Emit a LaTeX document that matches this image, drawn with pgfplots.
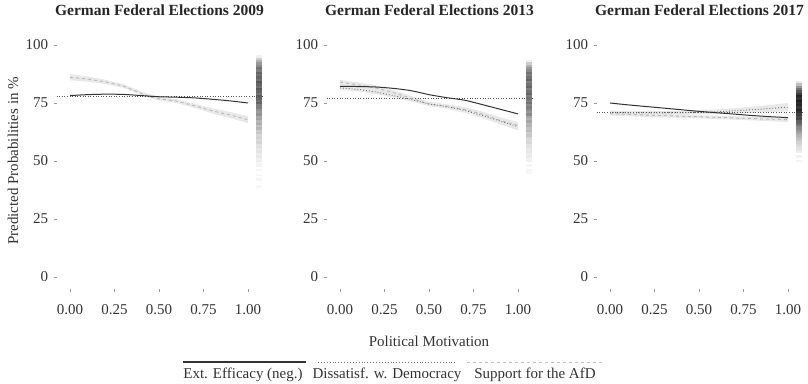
\documentclass[border=0pt]{standalone}
\usepackage{pgfplots}
\pgfplotsset{compat=1.18}
\usepackage{pgfplotstable}
\usepackage{fontspec}
\setmainfont{Liberation Serif}

\definecolor{txt}{HTML}{333333}
\definecolor{tk}{HTML}{999999}

\pgfplotsset{
  panel/.style={
    scale only axis, width=205.6pt, height=255.2pt,
    xmin=-0.075, xmax=1.08, ymin=-5, ymax=105,
    axis x line*=bottom, axis y line*=left,
    axis line style={draw=none},
    xtick={0,0.25,0.5,0.75,1}, ytick={0,25,50,75,100},
    xticklabels={0.00,0.25,0.50,0.75,1.00},
    tick align=outside, major tick length=3pt,
    tick style={tk, line width=0.6pt},
    ticklabel style={font=\fontsize{15}{18}\selectfont, text=txt},
    /pgf/number format/assume math mode=true,
    xticklabel style={yshift=-9pt},
    yticklabel style={xshift=-2pt},
    title style={font=\bfseries\fontsize{15.5}{18}\selectfont, text=black!85,
      at={(axis description cs:0.5,1)}, anchor=center, yshift=16.7pt},
    clip=false, anchor=south west,
    colormap={rug}{rgb255(0cm)=(255,255,255); rgb255(1cm)=(0,0,0)},
    point meta min=0, point meta max=1,
  },
  ext/.style={black!80, line width=1pt},
  dis/.style={black!55, dotted, line width=0.9pt},
  afd/.style={black!28, dashed, line width=0.9pt},
  hl/.style={black!65, dotted, line width=0.6pt},
  band/.style={draw=none, fill=black!9},
  rug/.style={scatter, only marks, mark=-, mark size=3.1pt, scatter src=explicit,
    scatter/use mapped color={draw=mapped color, fill=mapped color},
    mark options={line width=2.3pt}},
}

% rug strips: y value, darkness
\pgfplotstableread{
y v
95 0.06
94 0.20
93 0.30
92 0.40
91 0.45
90 0.55
89 0.50
88 0.60
87 0.55
86 0.60
85 0.55
84 0.65
83 0.60
82 0.55
81 0.65
80 0.60
79 0.55
78 0.65
77 0.60
76 0.55
75 0.60
74 0.50
73 0.50
72 0.42
71 0.38
70 0.42
69 0.33
68 0.36
67 0.28
66 0.32
65 0.24
64 0.28
63 0.20
62 0.22
61 0.16
60 0.18
59 0.14
58 0.16
57 0.11
56 0.13
55 0.09
54 0.11
53 0.07
52 0.09
51 0.06
50 0.07
49 0.04
48 0.05
46 0.04
44 0.03
42 0.04
39 0.03
}\rugA

\pgfplotstableread{
y v
93 0.06
92 0.20
91 0.30
90 0.40
89 0.45
88 0.55
87 0.50
86 0.55
85 0.60
84 0.50
83 0.55
82 0.60
81 0.50
80 0.55
79 0.60
78 0.50
77 0.55
76 0.50
75 0.55
74 0.45
73 0.50
72 0.45
71 0.40
70 0.45
69 0.35
68 0.30
67 0.35
66 0.28
65 0.30
64 0.24
63 0.26
62 0.20
61 0.22
60 0.16
59 0.14
58 0.15
57 0.11
56 0.12
55 0.09
54 0.10
53 0.07
52 0.08
51 0.05
50 0.06
48 0.04
46 0.04
45 0.03
}\rugB

\pgfplotstableread{
y v
84 0.08
83 0.25
82 0.40
81 0.55
80 0.65
79 0.75
78 0.85
77 0.80
76 0.88
75 0.82
74 0.85
73 0.78
72 0.85
71 0.80
70 0.75
69 0.70
68 0.72
67 0.62
66 0.58
65 0.50
64 0.45
63 0.40
62 0.35
61 0.30
60 0.26
59 0.22
58 0.18
57 0.15
56 0.12
55 0.10
54 0.07
52 0.05
50 0.04
}\rugC

\begin{document}
\begin{tikzpicture}[x=1pt,y=1pt]
\useasboundingbox (0,0) rectangle (808,383);

% ---- 2009 ----
\begin{axis}[panel, at={(56.65pt,94.4pt)}, title={German Federal Elections 2009}]
\addplot[band] coordinates {
  (0,87.4) (0.1,86.4) (0.2,85.0) (0.3,83.1) (0.4,79.9) (0.5,77.5) (0.6,76.6)
  (0.7,74.7) (0.8,72.7) (0.9,71.1) (1.0,69.3)
  (1.0,66.3) (0.9,68.5) (0.8,70.5) (0.7,72.9) (0.6,75.0) (0.5,76.1) (0.4,78.5)
  (0.3,81.5) (0.2,83.2) (0.1,84.2) (0,84.8)} -- cycle;
\addplot[hl] coordinates {(-0.075,77.9) (1.08,77.9)};
\addplot[afd] coordinates {
  (0,86.1) (0.1,85.3) (0.2,84.1) (0.3,82.3) (0.4,79.2) (0.45,77.6) (0.5,76.8)
  (0.6,75.8) (0.7,73.8) (0.8,71.6) (0.9,69.8) (1.0,67.8)};
\addplot[ext, smooth] coordinates {
  (0,78.2) (0.1,78.6) (0.2,78.8) (0.3,78.7) (0.4,78.2) (0.5,77.7) (0.6,77.5)
  (0.7,77.2) (0.8,76.6) (0.9,75.9) (1.0,75.0)};
\addplot[rug] table[x expr=1.0625, y=y, meta=v] {\rugA};
\end{axis}

% ---- 2013 ----
\begin{axis}[panel, at={(326.65pt,94.4pt)}, title={German Federal Elections 2013}]
\addplot[band] coordinates {
  (0,85.0) (0.1,83.9) (0.2,82.6) (0.3,80.5) (0.4,78.0) (0.5,75.5) (0.6,74.5)
  (0.7,73.2) (0.8,71.3) (0.9,68.8) (1.0,66.8)
  (1.0,63.2) (0.9,65.8) (0.8,68.5) (0.7,70.8) (0.6,72.5) (0.5,73.7) (0.4,75.6)
  (0.3,77.3) (0.2,78.9) (0.1,80.0) (0,80.6)} -- cycle;
\addplot[hl] coordinates {(-0.075,77.0) (1.08,77.0)};
\addplot[afd] coordinates {
  (0,84.0) (0.1,82.8) (0.2,81.5) (0.3,79.5) (0.4,77.0) (0.5,74.6) (0.6,73.6)
  (0.7,72.2) (0.8,70.2) (0.9,67.5) (1.0,65.3)};
\addplot[dis] coordinates {
  (0,81.5) (0.1,80.9) (0.2,79.8) (0.3,78.2) (0.4,76.5) (0.5,74.6) (0.6,73.4)
  (0.7,71.8) (0.8,69.6) (0.9,67.2) (1.0,64.8)};
\addplot[ext, smooth] coordinates {
  (0,82.2) (0.1,82.1) (0.2,81.9) (0.3,81.3) (0.4,80.3) (0.5,78.6) (0.6,77.3)
  (0.7,76.2) (0.8,74.3) (0.9,72.3) (1.0,70.3)};
\addplot[rug] table[x expr=1.0625, y=y, meta=v] {\rugB};
\end{axis}

% ---- 2017 ----
\begin{axis}[panel, at={(596.65pt,94.4pt)}, title={German Federal Elections 2017}]
\addplot[band] coordinates {
  (0,71.8) (0.2,71.5) (0.4,71.6) (0.6,72.2) (0.8,73.4) (1.0,75.0)
  (1.0,71.4) (0.8,70.8) (0.6,70.2) (0.4,70.0) (0.2,69.9) (0,69.8)} -- cycle;
\addplot[band] coordinates {
  (0,71.2) (0.2,70.6) (0.4,70.0) (0.6,69.5) (0.8,69.1) (1.0,68.8)
  (1.0,66.8) (0.8,67.5) (0.6,68.1) (0.4,68.6) (0.2,69.0) (0,69.6)} -- cycle;
\addplot[hl] coordinates {(-0.075,71.0) (1.08,71.0)};
\addplot[afd] coordinates {
  (0,70.4) (0.2,69.8) (0.4,69.3) (0.6,68.8) (0.8,68.3) (1.0,67.8)};
\addplot[dis] coordinates {
  (0,70.8) (0.2,70.7) (0.4,70.8) (0.6,71.2) (0.8,72.1) (1.0,73.2)};
\addplot[ext, smooth] coordinates {
  (0,75.0) (0.1,74.2) (0.2,73.5) (0.3,72.8) (0.4,72.1) (0.5,71.4) (0.6,70.8)
  (0.7,70.2) (0.8,69.6) (0.9,69.1) (1.0,68.7)};
\addplot[rug] table[x expr=1.0625, y=y, meta=v] {\rugC};
\end{axis}

% labels
\node[rotate=90, font=\fontsize{15}{18}\selectfont, text=txt] at (13,222) {Predicted Probabilities in \%};
\node[font=\fontsize{15}{18}\selectfont, text=txt] at (429,42) {Political Motivation};

% legend
\draw[black!80, line width=1.2pt] (183,21) -- (306,21);
\draw[black!55, dotted, line width=0.9pt] (318,21) -- (456,21);
\draw[black!25, dashed, line width=0.9pt] (467,21) -- (602,21);
\node[font=\fontsize{15}{18}\selectfont, text=txt] at (243,8) {Ext. Efficacy (neg.)};
\node[font=\fontsize{15}{18}\selectfont, text=txt] at (387,8) {Dissatisf. w. Democracy};
\node[font=\fontsize{15}{18}\selectfont, text=txt] at (535,8) {Support for the AfD};
\end{tikzpicture}
\end{document}
